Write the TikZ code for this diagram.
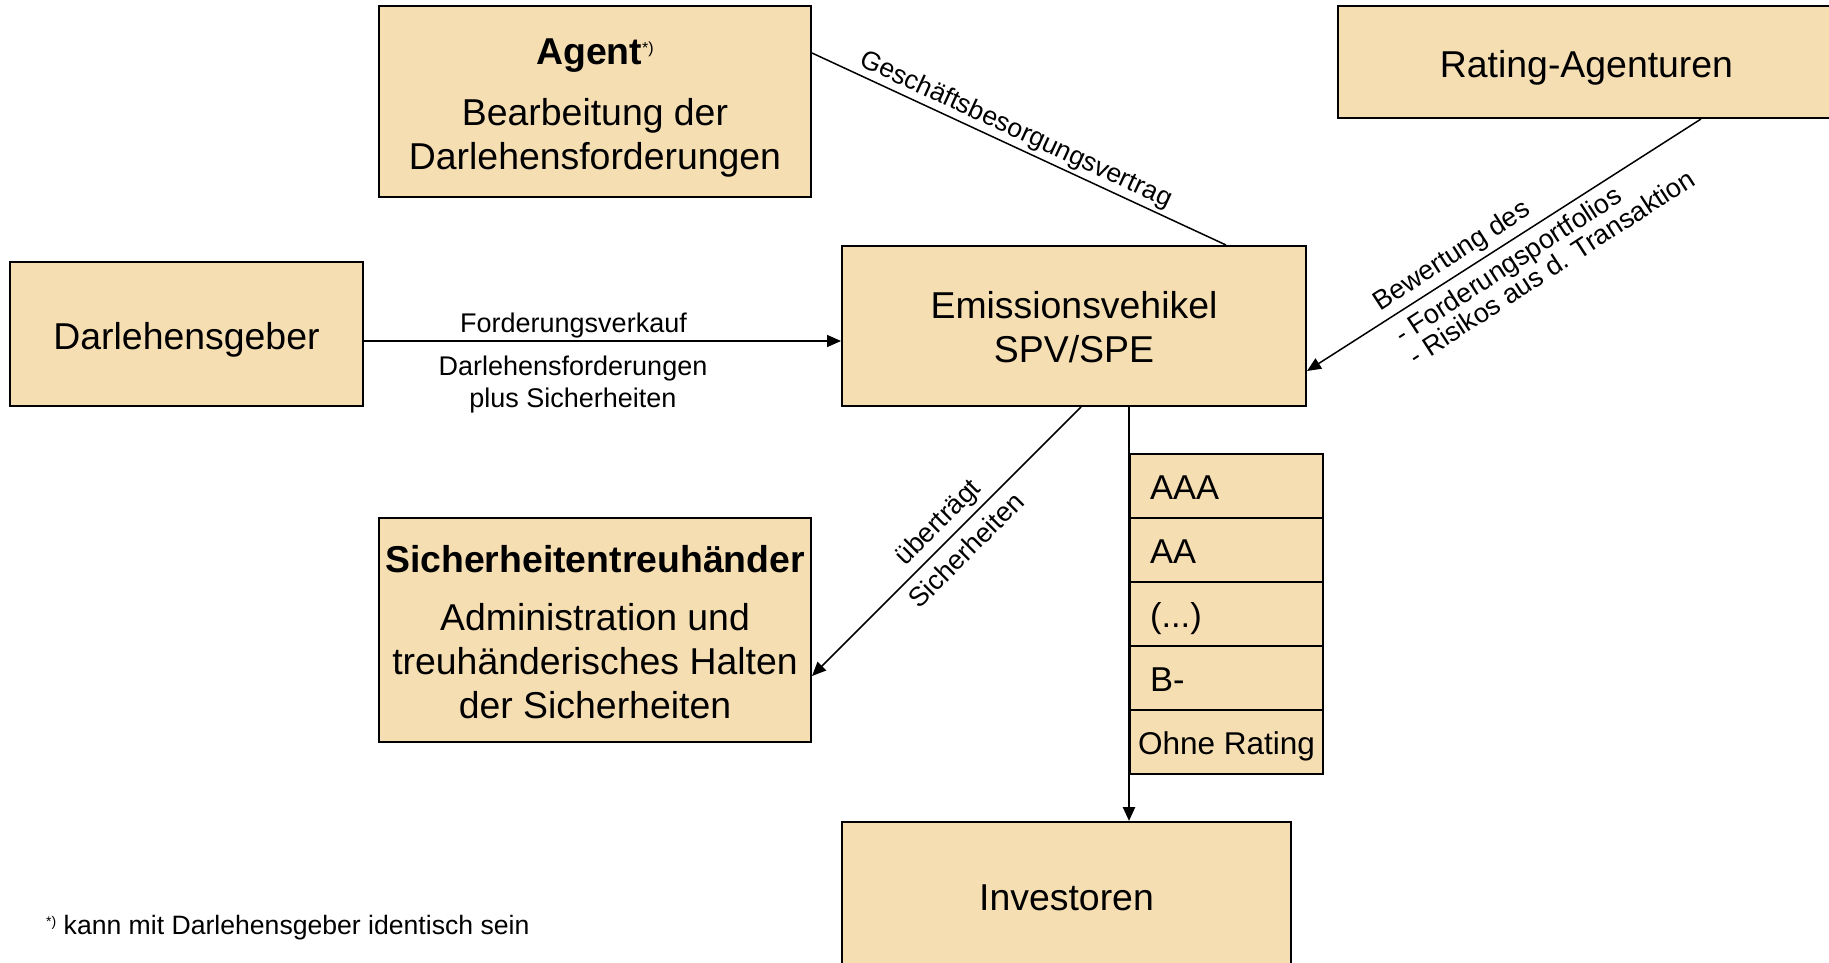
\documentclass[tikz,border=0pt]{standalone}
\usepackage{fontspec}
\setmainfont{Liberation Sans}
\usetikzlibrary{arrows.meta}
\definecolor{boxfill}{RGB}{246,222,179}
\begin{document}
\begin{tikzpicture}[x=1pt,y=-1pt,
  box/.style={draw=black, line width=2pt, fill=boxfill, inner sep=0pt, align=center,
    font=\fontsize{37.4}{44}\selectfont},
  trbase/.style={draw=black, line width=2pt, fill=boxfill, minimum width=193pt,
    minimum height=64pt, inner sep=0pt},
  tranche/.style={trbase, text width=153pt, align=left, text height=27.5pt, text depth=0pt,
    font=\fontsize{34.5}{40}\selectfont},
  lbl/.style={font=\fontsize{27}{32}\selectfont, inner sep=0pt},
  conn/.style={line width=1.5pt},
  arr/.style={line width=1.5pt, -{Triangle[length=14pt,width=12pt]}},
]
\useasboundingbox (0,0) rectangle (1829,963);

% boxes
\node[box, minimum width=432pt, minimum height=191pt] (agent) at (595,101.5)
  {\rule{0pt}{38.6pt}\textbf{Agent}\raisebox{11pt}{\fontsize{16}{16}\selectfont *)}\\[16.7pt]
   Bearbeitung der\\ Darlehensforderungen};
\node[box, minimum width=497pt, minimum height=112pt, text height=38.9pt, text depth=7.9pt]
  (rating) at (1586.5,62) {Rating-Agenturen};
\node[box, minimum width=353pt, minimum height=144pt, text height=38.9pt, text depth=7.9pt]
  (dg) at (186.5,334) {Darlehensgeber};
\node[box, minimum width=464pt, minimum height=160pt] (ev) at (1074,326)
  {\rule{0pt}{29.7pt}Emissionsvehikel\\SPV/SPE};
\node[box, minimum width=432pt, minimum height=224pt] (treu) at (595,630)
  {\rule{0pt}{31.9pt}\textbf{Sicherheitentreuhänder}\\[14pt] Administration und\\ treuhänderisches Halten\\ der Sicherheiten};
\node[box, minimum width=449pt, minimum height=148pt, text height=29.7pt, text depth=0.3pt]
  (inv) at (1066.5,896) {Investoren};

% tranches
\node[tranche] (t1) at (1226.5,486) {AAA};
\node[tranche] (t2) at (1226.5,550) {AA};
\node[tranche] (t3) at (1226.5,614) {(...)};
\node[tranche] (t4) at (1226.5,678) {B-};
\node[trbase, text height=25.5pt, text depth=0pt, font=\fontsize{31.5}{36}\selectfont]
  (t5) at (1226.5,742) {Ohne Rating};

% connectors
\draw[conn] ([yshift=-48pt]agent.north east) -- ([xshift=385pt]ev.north west);
\draw[arr] ([xshift=364pt]rating.south west) -- ([yshift=-126pt]ev.north east);
\draw[arr] ([yshift=-80pt]dg.north east) -- ([yshift=-96pt]ev.north west);
\draw[arr] ([xshift=240pt]ev.south west) -- ([yshift=-159pt]treu.north east);
\draw[line width=2.5pt, -{Triangle[length=14pt,width=12pt]}] ([xshift=288pt]ev.south west) -- ([xshift=288pt]inv.north west);

% labels
\node[lbl, anchor=base] (l1) at (573.5,332) {Forderungsverkauf};
\node[lbl, anchor=base] (l2) at (573,375) {Darlehensforderungen};
\node[lbl, anchor=base] (l3) at (573,407) {plus Sicherheiten};
\node[lbl, anchor=base, rotate=-24.78, font=\fontsize{26.5}{32}\selectfont] (l4) at (1013,136.5) {Geschäftsbesorgungsvertrag};
\node[lbl, anchor=base, rotate=45] (l5) at (943.9,528.1) {überträgt};
\node[lbl, anchor=base, rotate=45] (l6) at (972.6,556.8) {Sicherheiten};
\node[lbl, anchor=base west, rotate=33] (l7) at (1380.7,311.7) {Bewertung des};
\node[lbl, anchor=base west, rotate=33] (l8) at (1402.0,344.4) {- Forderungsportfolios};
\node[lbl, anchor=base west, rotate=33] (l9) at (1416.1,366.2) {- Risikos aus d. Transaktion};

% footnote
\node[lbl, anchor=base west, font=\fontsize{26.6}{32}\selectfont] (fn) at (46,934.7)
  {\raisebox{8pt}{\fontsize{14}{14}\selectfont *)} kann mit Darlehensgeber identisch sein};
\end{tikzpicture}
\end{document}
